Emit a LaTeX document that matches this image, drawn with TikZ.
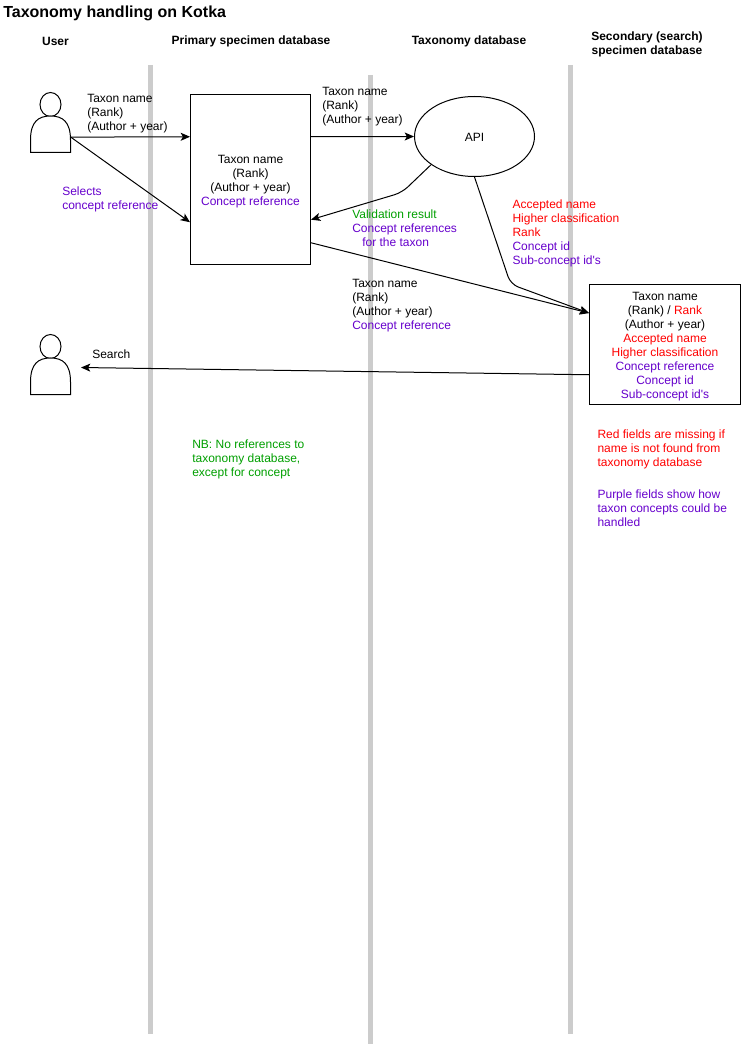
\documentclass[tikz,border=0pt]{standalone}
\usepackage{fontspec}
\setmainfont{Liberation Sans}[Ligatures=TeXOff]
\usetikzlibrary{arrows.meta,calc,shapes.geometric}
\definecolor{lanegrey}{HTML}{CCCCCC}
\definecolor{cpurple}{HTML}{6600CC}
\definecolor{cred}{HTML}{FF0000}
\definecolor{cgreen}{HTML}{009F00}
\newcommand{\fstrut}{\rule{0pt}{7.5pt}}
\newcommand{\pu}[1]{\textcolor{cpurple}{#1}}
\newcommand{\re}[1]{\textcolor{cred}{#1}}
\newcommand{\gr}[1]{\textcolor{cgreen}{#1}}
\tikzset{
  x=0.75pt,y=-0.75pt,
  body/.style={font=\fontsize{9}{10.5}\selectfont,inner sep=0pt,execute at begin node=\fstrut},
  lbl/.style={body,align=left,anchor=north west},
  ctr/.style={body,align=center},
  head/.style={inner sep=0pt,align=center,font=\fontsize{9}{10.5}\selectfont\bfseries},
  lane/.style={draw=lanegrey,line width=3.75pt},
  thing/.style={draw=black,line width=0.75pt,fill=white,body,align=center},
  conn/.style={draw=black,line width=0.75pt,-{Stealth[length=7pt,width=6pt,inset=1.7pt]}},
  actorshape/.style={draw=black,line width=0.75pt,fill=white},
  hold/.style={inner sep=0pt,minimum width=30pt,minimum height=45pt},
  pics/actor/.style={code={
    \draw[actorshape] (0,-18) ellipse [x radius=7.875pt,y radius=9pt];
    \draw[actorshape] (-20,30) -- (-20,17.5) .. controls (-20,-1) and (-12,-6.5) .. (0,-6.5)
      .. controls (12,-6.5) and (20,-1) .. (20,17.5) -- (20,30) -- cycle;
  }}
}
\begin{document}
\begin{tikzpicture}
\useasboundingbox (0,0) rectangle (741,1048);
% lanes
\draw[lane] (150.5,65) -- (150.5,1034);
\draw[lane] (370,75) -- (370,1044);
\draw[lane] (570.5,65) -- (570.5,1034);
% title and headers
\node[inner sep=0pt,anchor=west,font=\fontsize{12}{14}\selectfont\bfseries] (title) at (3,13.5) {Taxonomy handling on Kotka};
\node[head] (hUser) at (55.5,41.5) {User};
\node[head] (hPrim) at (251,41.5) {Primary specimen database};
\node[head] (hTax) at (469,41.5) {Taxonomy database};
\node[head] (hSec) at (647,44.5) {Secondary (search)\\specimen database};
% actors
\pic at (50.5,122.5) {actor};
\node[hold] (u1) at (50.5,122.5) {};
\pic at (50.5,364.5) {actor};
\node[hold] (u2) at (50.5,364.5) {};
% main shapes
\node[thing,minimum width=90pt,minimum height=127.5pt] (prim) at (250.5,179.5) {};
\node[ctr] (primText) at ($(prim.center)+(0,2)$)
  {Taxon name\\(Rank)\\(Author + year)\\\pu{Concept reference}};
\node[thing,ellipse,inner sep=0pt,minimum width=90pt,minimum height=60pt] (api) at (474.5,136.5) {API};
\node[thing,minimum width=113.25pt,minimum height=90pt] (sec) at (665,344.5) {};
\node[ctr] (secText) at ($(sec.center)+(0,2)$)
  {Taxon name\\(Rank) / \re{Rank}\\(Author + year)\\\re{Accepted name}\\\re{Higher classification}\\\pu{Concept reference}\\\pu{Concept id}\\\pu{Sub-concept id's}};
% free ends and bends
\coordinate (searchEnd) at (81,367.5);
\coordinate (bendA) at (402,192.5);
\coordinate (bendB) at (510.6,284.2);
% connectors
\draw[conn] ($(u1.north east)!0.742!(u1.south east)$) -- ($(prim.north west)!0.25!(prim.south west)$);
\draw[conn] ($(u1.north east)!0.742!(u1.south east)$) -- ($(prim.north west)!0.75!(prim.south west)$);
\draw[conn] ($(prim.north east)!0.25!(prim.south east)$) -- (api.west);
\draw[conn,rounded corners=6pt] (api.213.7) -- (bendA) -- ($(prim.north east)!0.735!(prim.south east)$);
\draw[conn,rounded corners=6pt] (api.south) -- (bendB) -- ($(sec.north west)!0.24!(sec.south west)$);
\draw[conn] ($(prim.north east)!0.87!(prim.south east)$) -- ($(sec.north west)!0.24!(sec.south west)$);
\draw[conn] ($(sec.north west)!0.75!(sec.south west)$) -- (searchEnd);
% labels
\node[lbl] (l1) at (87,94) {Taxon name\\(Rank)\\(Author + year)};
\node[lbl] (l2) at (62,187) {\pu{Selects}\\\pu{concept reference}};
\node[lbl] (l3) at (322,87) {Taxon name\\(Rank)\\(Author + year)};
\node[lbl] (l4) at (352,210) {\gr{Validation result}\\\pu{Concept references}\\\hspace*{7.5pt}\pu{for the taxon}};
\node[lbl] (l5) at (352,279) {Taxon name\\(Rank)\\(Author + year)\\\pu{Concept reference}};
\node[lbl] (l6) at (512.3,200) {\re{Accepted name}\\\re{Higher classification}\\\re{Rank}\\\pu{Concept id}\\\pu{Sub-concept id's}};
\node[lbl] (l7) at (92,348) {Search};
\node[lbl] (l8) at (192,440) {\gr{NB: No references to}\\\gr{taxonomy database,}\\\gr{except for concept}};
\node[lbl] (l9) at (597.3,430) {\re{Red fields are missing if}\\\re{name is not found from}\\\re{taxonomy database}};
\node[lbl] (l10) at (597.3,490) {\pu{Purple fields show how}\\\pu{taxon concepts could be}\\\pu{handled}};
\end{tikzpicture}
\end{document}
